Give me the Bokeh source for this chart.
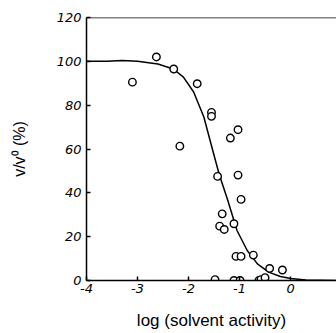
from bokeh.plotting import figure
from bokeh.models import FixedTicker, Span, Range1d
from bokeh.embed import file_html
from bokeh.resources import INLINE

# Data
obs_x = [-3.10, -2.63, -2.29, -2.17, -1.83, -1.55, -1.55, -1.18, -1.03,
         -1.43, -1.03, -0.97, -1.34, -1.39, -1.30, -1.11, -1.07, -0.97,
         -0.73, -0.41, -0.16, -1.48, -1.11, -0.99, -0.62, -0.58, -0.50]
obs_y = [90.5, 102.0, 96.5, 61.3, 89.8, 76.7, 74.9, 65.0, 68.8,
         47.5, 48.1, 37.0, 30.4, 24.8, 23.3, 25.9, 11.0, 11.0,
         11.6, 5.5, 4.8, 0.4, 0.0, 0.0, 0.0, 0.4, 1.3]

fit_x = [-4.0, -3.6, -3.3, -3.0, -2.6, -2.3, -2.1, -1.9, -1.7, -1.55,
         -1.4, -1.23, -1.05, -0.85, -0.65, -0.43, -0.2, 0.0, 0.3, 0.9]
fit_y = [100.0, 100.0, 100.4, 100.0, 98.8, 96.5, 92.8, 86.0, 74.6, 61.5,
         48.5, 36.5, 22.8, 13.7, 7.6, 3.8, 1.8, 0.9, 0.2, 0.0]

x_ticks = [-4, -3, -2, -1, 0]
x_tick_labels = ["-4", "-3", "-2", "-1", "0"]
y_ticks = [0, 20, 40, 60, 80, 100, 120]
y_tick_labels = ["0", "20", "40", "60", "80", "100", "120"]

x_label = "log (solvent activity)"
y_label = "v/v\u2070 (%)"

p = figure(width=336, height=333, output_backend="svg", toolbar_location=None,
           x_range=Range1d(-4, 0.9), y_range=Range1d(0, 120),
           min_border_left=86, min_border_right=0, min_border_top=17,
           min_border_bottom=53)
p.outline_line_color = None
p.xgrid.visible = False
p.ygrid.visible = False
p.background_fill_color = "white"
p.border_fill_color = "white"

p.line(fit_x, fit_y, line_color="black", line_width=1.5)
p.scatter(obs_x, obs_y, marker="circle", size=7.5, fill_color="white",
          line_color="black", line_width=1.4)

p.add_layout(Span(location=120, dimension="width", line_color="black",
                  line_width=1.5))

for ax, ticks, labels in ((p.xaxis[0], x_ticks, x_tick_labels),
                          (p.yaxis[0], y_ticks, y_tick_labels)):
    ax.ticker = FixedTicker(ticks=ticks)
    ax.major_label_overrides = {t: l for t, l in zip(ticks, labels)}
    ax.minor_tick_line_color = None
    ax.major_tick_out = 0
    ax.major_tick_in = 4
    ax.axis_line_width = 1.5
    ax.major_tick_line_width = 1.5
    ax.axis_line_color = "black"
    ax.major_tick_line_color = "black"
    ax.major_label_text_font = "DejaVu Sans"
    ax.major_label_text_font_style = "italic"
    ax.major_label_text_font_size = "13px"
    ax.major_label_text_color = "black"
    ax.axis_label_text_font = "Liberation Sans"
    ax.axis_label_text_font_style = "normal"
    ax.axis_label_text_color = "black"

p.xaxis.axis_label = x_label
p.yaxis.axis_label = y_label
p.xaxis.axis_label_text_font_size = "17px"
p.yaxis.axis_label_text_font_size = "16px"
p.xaxis.major_label_standoff = 3
p.xaxis.axis_label_standoff = 15
p.yaxis.major_label_standoff = 5
p.yaxis.axis_label_standoff = 26

open("out.html", "w").write(file_html(p, INLINE))
